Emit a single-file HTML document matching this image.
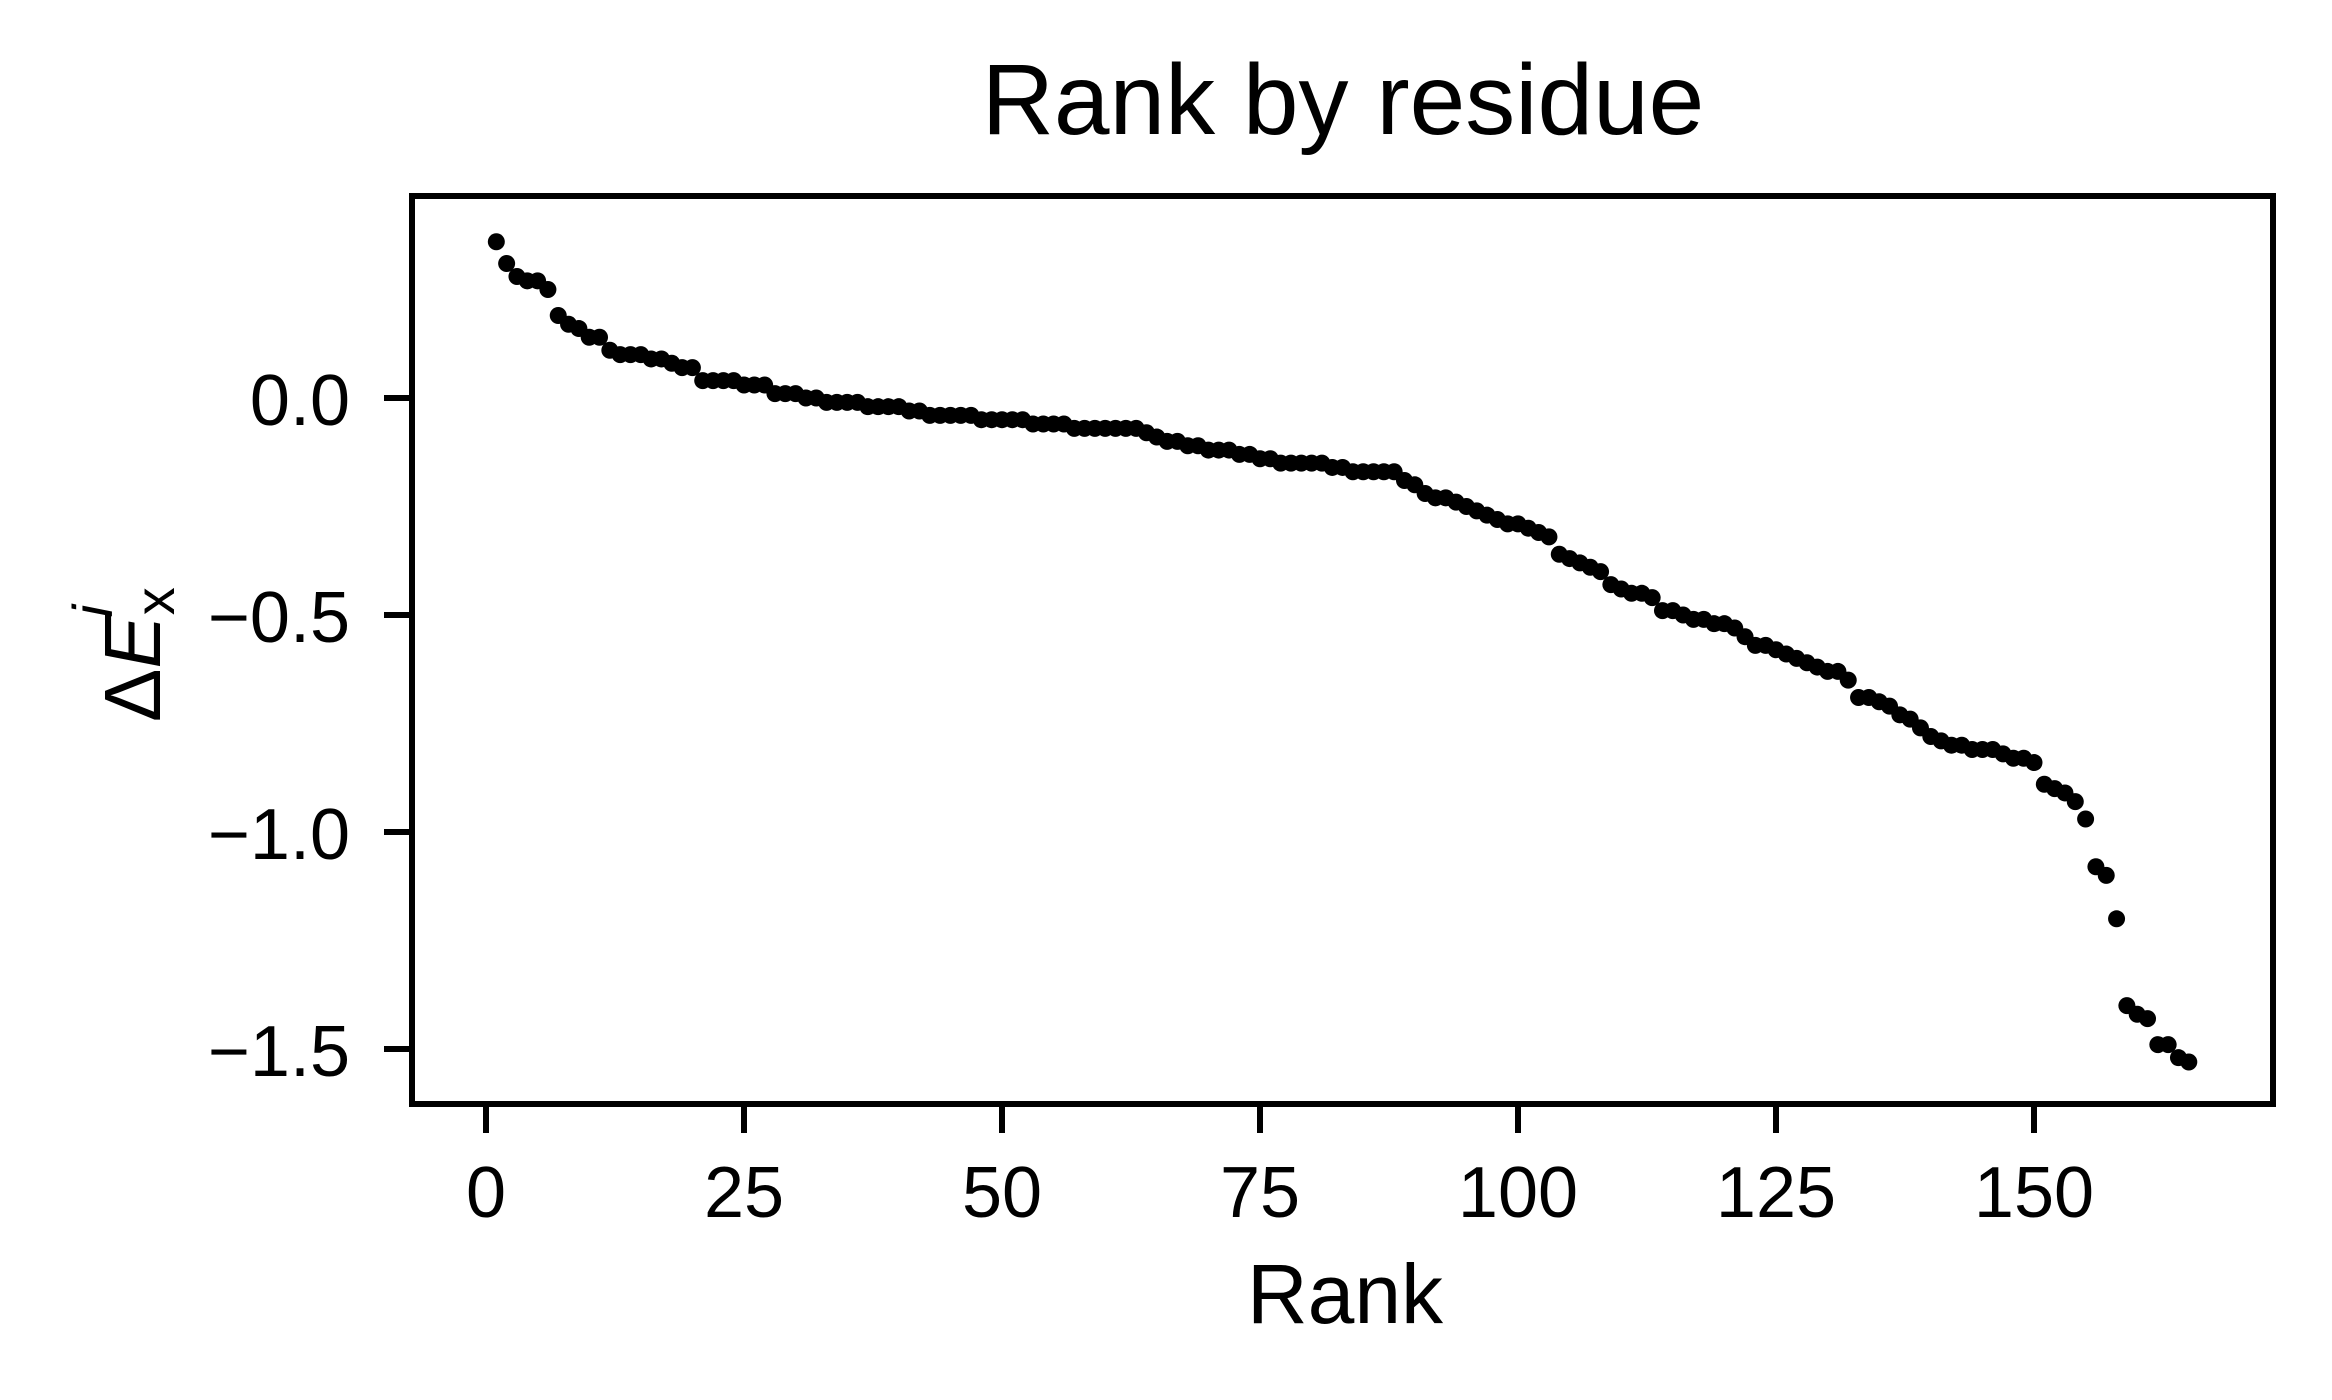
<!DOCTYPE html>
<html><head><meta charset="utf-8"><style>
html,body{margin:0;padding:0;background:#fff;}
svg{display:block;font-family:"Liberation Sans",sans-serif;}
</style></head><body>
<svg id="chart" width="2332" height="1400" viewBox="0 0 2332 1400">
<text x="1343" y="134" font-size="100" text-anchor="middle">Rank by residue</text>
<g id="plot"></g>
<rect x="412" y="196" width="1861" height="908" fill="none" stroke="#000" stroke-width="6"/>
<g id="xticks"></g>
<g id="yticks"></g>
<text x="1345" y="1323" font-size="84" text-anchor="middle">Rank</text>
<text transform="translate(160,722) rotate(-90)" font-size="80" text-anchor="start">Δ<tspan font-style="italic">E</tspan><tspan font-size="56" dy="14">x</tspan><tspan font-size="56" dy="-62" dx="-30" font-style="italic">i</tspan></text>
</svg>
<script>
const deltaE = [0.36,0.31,0.28,0.27,0.27,0.25,0.19,0.17,0.16,0.14,0.14,0.11,0.10,0.10,0.10,0.09,0.09,0.08,0.07,0.07,
0.04,0.04,0.04,0.04,0.03,0.03,0.03,0.01,0.01,0.01,
0.00,0.00,-0.01,-0.01,-0.01,-0.01,-0.02,-0.02,-0.02,-0.02,
-0.03,-0.03,-0.04,-0.04,-0.04,-0.04,-0.04,-0.05,-0.05,-0.05,
-0.05,-0.05,-0.06,-0.06,-0.06,-0.06,-0.07,-0.07,-0.07,-0.07,
-0.07,-0.07,-0.07,-0.08,-0.09,-0.10,-0.10,-0.11,-0.11,-0.12,
-0.12,-0.12,-0.13,-0.13,-0.14,-0.14,-0.15,-0.15,-0.15,-0.15,
-0.15,-0.16,-0.16,-0.17,-0.17,-0.17,-0.17,-0.17,-0.19,-0.20,
-0.22,-0.23,-0.23,-0.24,-0.25,-0.26,-0.27,-0.28,-0.29,-0.29,
-0.30,-0.31,-0.32,-0.36,-0.37,-0.38,-0.39,-0.40,-0.43,-0.44,
-0.45,-0.45,-0.46,-0.49,-0.49,-0.50,-0.51,-0.51,-0.52,-0.52,
-0.53,-0.55,-0.57,-0.57,-0.58,-0.59,-0.60,-0.61,-0.62,-0.63,
-0.63,-0.65,-0.69,-0.69,-0.70,-0.71,-0.73,-0.74,-0.76,-0.78,
-0.79,-0.80,-0.80,-0.81,-0.81,-0.81,-0.82,-0.83,-0.83,-0.84,
-0.89,-0.90,-0.91,-0.93,-0.97,
-1.08,-1.10,-1.20,-1.40,-1.42,-1.43,-1.49,-1.49,-1.52,-1.53];
const xTicks = [0,25,50,75,100,125,150];
const yTicks = [0.0,-0.5,-1.0,-1.5];
const yTickLabels = ["0.0","\u22120.5","\u22121.0","\u22121.5"];

const NS="http://www.w3.org/2000/svg";
function xs(v){return 486 + v*10.32;}
function ys(v){return 398 - v*434;}
function mk(tag,attrs,parent){const e=document.createElementNS(NS,tag);for(const k in attrs)e.setAttribute(k,attrs[k]);parent.appendChild(e);return e;}

const plot=document.getElementById('plot');
deltaE.forEach((v,i)=>{
  const c=mk('circle',{cx:xs(i+1),cy:ys(v),r:8.5,fill:'#000'},plot);
  
  
});
const xg=document.getElementById('xticks');
xTicks.forEach(t=>{
  const l=mk('line',{x1:xs(t),x2:xs(t),y1:1104,y2:1133,stroke:'#000','stroke-width':6},xg);
  
  
  const tx=mk('text',{x:xs(t),y:1217,'font-size':72,'text-anchor':'middle'},xg);
  tx.textContent=String(t);
  
  
});
const yg=document.getElementById('yticks');
yTicks.forEach((t,i)=>{
  const l=mk('line',{x1:384,x2:412,y1:ys(t),y2:ys(t),stroke:'#000','stroke-width':6},yg);
  
  
  const tx=mk('text',{x:350,y:ys(t)+27,'font-size':72,'text-anchor':'end'},yg);
  tx.textContent=yTickLabels[i];
  
  
});
</script>
</body></html>
